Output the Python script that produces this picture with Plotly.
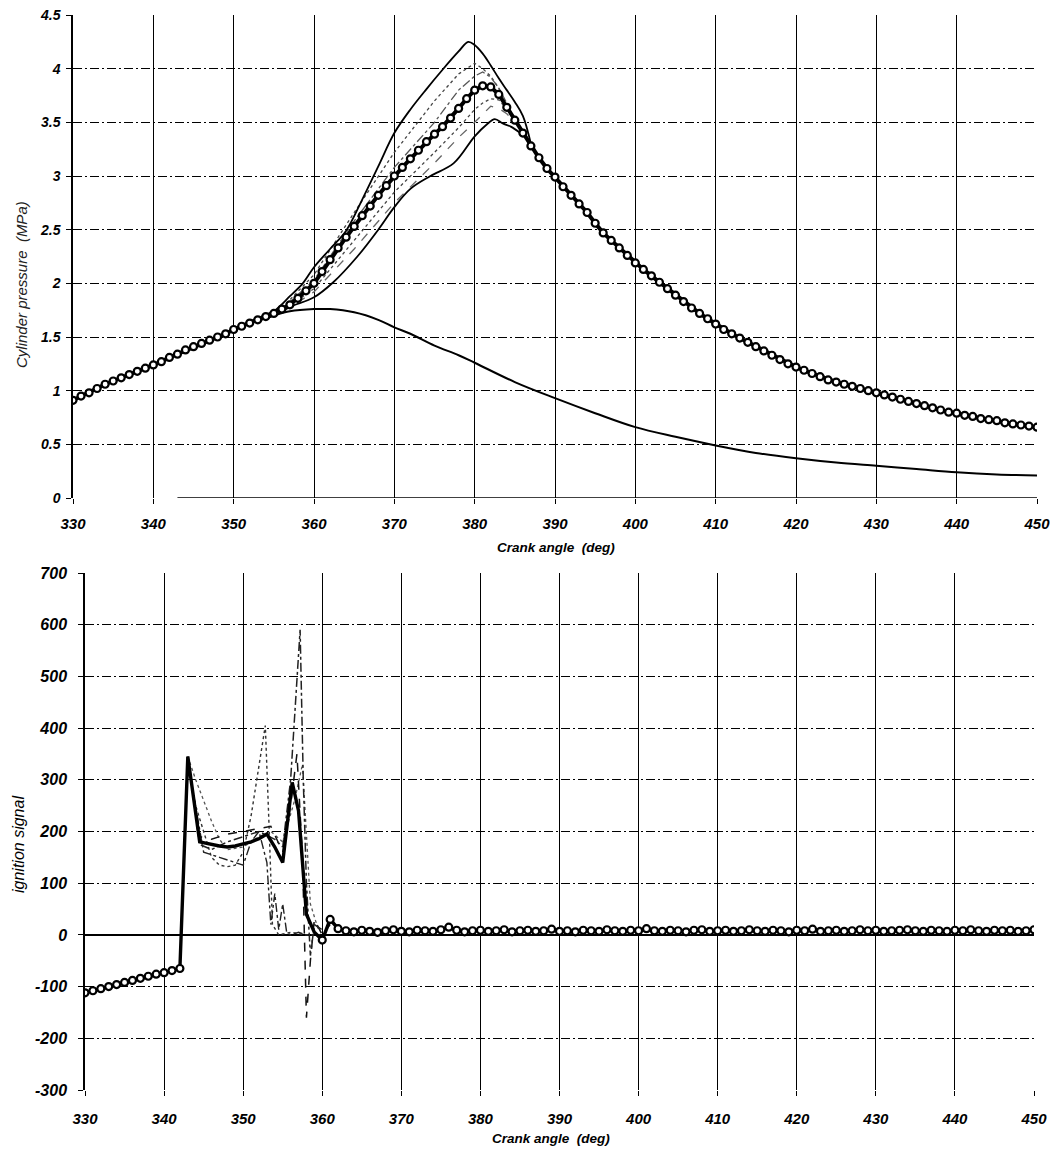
import plotly.graph_objects as go

# ---------------- data: top chart (cylinder pressure, MPa) ----------------
crank_deg = list(range(330, 451))
p_mean = [0.91, 0.95, 0.98, 1.02, 1.06, 1.09, 1.12, 1.15, 1.18, 1.21,
          1.24, 1.27, 1.31, 1.34, 1.38, 1.41, 1.44, 1.47, 1.50, 1.53,
          1.57, 1.60, 1.63, 1.66, 1.69, 1.72, 1.76, 1.80, 1.86, 1.93,
          2.00, 2.11, 2.22, 2.33, 2.43, 2.53, 2.63, 2.72, 2.82, 2.91,
          3.00, 3.08, 3.16, 3.24, 3.32, 3.39, 3.46, 3.54, 3.63, 3.72,
          3.80, 3.84, 3.83, 3.76, 3.64, 3.52, 3.40, 3.28, 3.17, 3.07,
          2.99, 2.90, 2.82, 2.74, 2.66, 2.56, 2.47, 2.40, 2.33, 2.26,
          2.19, 2.13, 2.07, 2.01, 1.95, 1.89, 1.83, 1.77, 1.72, 1.67,
          1.62, 1.57, 1.53, 1.49, 1.45, 1.41, 1.37, 1.33, 1.29, 1.25,
          1.22, 1.19, 1.16, 1.13, 1.10, 1.08, 1.06, 1.04, 1.02, 1.00,
          0.98, 0.96, 0.94, 0.92, 0.90, 0.88, 0.86, 0.84, 0.82, 0.80,
          0.79, 0.77, 0.76, 0.74, 0.73, 0.72, 0.70, 0.69, 0.68, 0.67,
          0.66]

motor_deg = [350, 355, 357, 360, 362, 365, 368, 370, 372, 375, 378, 380,
             385, 390, 395, 400, 405, 410, 415, 420, 425, 430, 435, 440, 445, 450]
p_motor = [1.57, 1.70, 1.74, 1.76, 1.76, 1.73, 1.66, 1.59, 1.53, 1.42, 1.33, 1.26,
           1.08, 0.93, 0.79, 0.66, 0.57, 0.49, 0.42, 0.37, 0.33, 0.30, 0.27, 0.24, 0.22, 0.21]

high_deg = [352, 355, 357, 358.6, 360, 362, 364, 366, 368, 370, 372, 374, 376, 378,
            379.2, 380, 381, 382, 383, 384, 385, 386, 387]
p_high = [1.63, 1.74, 1.88, 2.00, 2.15, 2.32, 2.49, 2.78, 3.09, 3.40, 3.62, 3.81, 3.99, 4.16,
          4.25, 4.22, 4.14, 4.03, 3.91, 3.80, 3.69, 3.56, 3.30]

low_deg = [352, 355, 357, 360, 362.4, 365.4, 368, 370, 372, 374.5, 377.4, 380, 381.5,
           382.5, 383.5, 384.5, 385.7]
p_low = [1.63, 1.70, 1.78, 1.87, 2.01, 2.25, 2.50, 2.71, 2.88, 3.00, 3.12, 3.37, 3.48,
         3.53, 3.49, 3.46, 3.40]

thin_deg = [356, 360, 365, 370, 375, 378, 380, 381, 382, 383, 384, 385]
p_thin1 = [1.77, 2.08, 2.66, 3.22, 3.70, 3.95, 4.05, 4.00, 3.93, 3.82, 3.66, 3.52]
p_thin2 = [1.76, 2.03, 2.58, 3.08, 3.50, 3.80, 3.93, 3.97, 3.92, 3.82, 3.68, 3.52]
p_thin3 = [1.74, 1.95, 2.40, 2.85, 3.22, 3.45, 3.62, 3.68, 3.72, 3.71, 3.62, 3.52]
p_thin4 = [1.73, 1.92, 2.32, 2.75, 3.12, 3.36, 3.50, 3.58, 3.65, 3.63, 3.58, 3.50]

zero_deg = [343, 450]
p_zero = [0.0, 0.0]

# ---------------- data: bottom chart (ignition signal) ----------------
pre_deg = list(range(330, 343))
sig_pre = [-112, -108, -104, -100, -96, -92, -88, -84, -80, -76, -73, -69, -65]

post_deg = list(range(360, 451))
sig_post = [-10, 30, 12, 8, 6, 9, 7, 5, 8, 10, 7,
            6, 9, 8, 7, 10, 15, 9, 6, 8, 9,
            7, 8, 10, 6, 8, 9, 7, 8, 11, 7,
            8, 6, 9, 8, 7, 10, 8, 7, 9, 8,
            12, 8, 7, 9, 8, 6, 9, 10, 7, 8,
            9, 7, 8, 10, 8, 7, 9, 8, 6, 9,
            8, 11, 7, 8, 9, 7, 8, 10, 8, 9,
            7, 8, 9, 10, 8, 7, 9, 8, 7, 9,
            8, 10, 8, 7, 9, 8, 9, 7, 8, 10]

bold_deg = [342, 343, 344.5, 346, 347, 348, 349, 350, 351, 352, 353, 354, 355,
            356.2, 357, 358, 359, 360]
sig_bold = [-65, 345, 180, 175, 172, 170, 172, 176, 180, 186, 195, 170, 140,
            295, 240, 40, 5, -10]

t1_deg = [342, 343, 344, 345, 346, 347, 348, 349, 350, 351, 352, 352.8, 353.3,
          353.7, 354.5, 356, 358, 360]
sig_t1 = [-65, 340, 250, 200, 150, 135, 132, 135, 160, 230, 330, 405, 200,
          20, 0, 5, 0, 0]

t2_deg = [343, 344.5, 346, 348, 350, 352, 354, 355, 356, 356.8, 357.2, 357.6,
          358, 358.5, 359, 360]
sig_t2 = [345, 175, 165, 180, 190, 200, 185, 170, 300, 480, 590, 300,
          100, -40, 20, 10]

t3_deg = [343, 344.5, 346, 348, 350, 352, 353.5, 355, 356, 356.8, 357.5, 358,
          358.5, 359, 360, 361]
sig_t3 = [340, 190, 185, 195, 200, 205, 210, 160, 250, 350, 150, -160,
          -50, 30, 0, 20]

t4_deg = [343, 345, 347, 349, 350, 351, 352, 353, 353.5, 354, 354.5, 355, 355.5,
          356, 357, 358]
sig_t4 = [335, 160, 150, 140, 135, 180, 200, 140, 20, 80, 10, 60, 5,
          0, 5, 0]

t5_deg = [343, 344, 345, 346, 347, 348, 350, 352, 353.5, 355, 356.5, 357.5, 358.5, 359.5]
sig_t5 = [345, 300, 260, 220, 185, 165, 170, 190, 200, 180, 260, 330, 60, 10]

# ---------------- tick labels ----------------
x_ticks = [330, 340, 350, 360, 370, 380, 390, 400, 410, 420, 430, 440, 450]
x_ticktext = [str(v) for v in x_ticks]
p_ticks = [0, 0.5, 1, 1.5, 2, 2.5, 3, 3.5, 4, 4.5]
p_ticktext = ["0", "0.5", "1", "1.5", "2", "2.5", "3", "3.5", "4", "4.5"]
s_ticks = [-300, -200, -100, 0, 100, 200, 300, 400, 500, 600, 700]
s_ticktext = ["-300", "-200", "-100", "0", "100", "200", "300", "400", "500", "600", "700"]

W, H = 1050, 1155
FONT = "Liberation Sans, Arial, sans-serif"

fig = go.Figure()

marker_chain = dict(symbol="circle", size=7, color="white",
                    line=dict(color="black", width=2.2))

# ---- top traces ----
for xs, ys, dash, col in [(thin_deg, p_thin1, "dot", "#444"),
                          (thin_deg, p_thin2, "dashdot", "#555"),
                          (thin_deg, p_thin3, "dot", "#444"),
                          (thin_deg, p_thin4, "dash", "#666")]:
    fig.add_trace(go.Scatter(x=xs, y=ys, mode="lines", xaxis="x", yaxis="y",
                             line=dict(color=col, width=1.3, dash=dash)))
fig.add_trace(go.Scatter(x=zero_deg, y=p_zero, mode="lines", xaxis="x", yaxis="y",
                         line=dict(color="black", width=1.5)))
fig.add_trace(go.Scatter(x=motor_deg, y=p_motor, mode="lines", xaxis="x", yaxis="y",
                         line=dict(color="black", width=2, shape="spline")))
fig.add_trace(go.Scatter(x=high_deg, y=p_high, mode="lines", xaxis="x", yaxis="y",
                         line=dict(color="black", width=1.8, shape="spline")))
fig.add_trace(go.Scatter(x=low_deg, y=p_low, mode="lines", xaxis="x", yaxis="y",
                         line=dict(color="black", width=1.8, shape="spline")))
fig.add_trace(go.Scatter(x=crank_deg, y=p_mean, mode="lines+markers", xaxis="x", yaxis="y",
                         line=dict(color="black", width=4), marker=marker_chain))

# ---- bottom traces ----
for xs, ys, dash, col, w in [(t5_deg, sig_t5, "dot", "#555", 1.3),
                             (t1_deg, sig_t1, "dot", "#333", 1.4),
                             (t4_deg, sig_t4, "dashdot", "#222", 1.4),
                             (t3_deg, sig_t3, "dash", "#111", 1.5),
                             (t2_deg, sig_t2, "dashdot", "#222", 1.5)]:
    fig.add_trace(go.Scatter(x=xs, y=ys, mode="lines", xaxis="x2", yaxis="y2",
                             line=dict(color=col, width=w, dash=dash)))
fig.add_trace(go.Scatter(x=bold_deg, y=sig_bold, mode="lines", xaxis="x2", yaxis="y2",
                         line=dict(color="black", width=3.4)))
fig.add_trace(go.Scatter(x=pre_deg, y=sig_pre, mode="lines+markers", xaxis="x2", yaxis="y2",
                         line=dict(color="black", width=3.5), marker=marker_chain))
fig.add_trace(go.Scatter(x=post_deg, y=sig_post, mode="lines+markers", xaxis="x2", yaxis="y2",
                         line=dict(color="black", width=3.5), marker=marker_chain))

tick_font = dict(family=FONT, size=15, color="black", weight="bold", style="italic")
grid_dash = "9px,3px,2px,3px"

common_x = dict(range=[330, 450], tickvals=x_ticks, ticktext=x_ticktext,
                showgrid=True, gridcolor="black", gridwidth=1.4, griddash="solid",
                zeroline=False, showline=False, ticks="outside", ticklen=5,
                tickcolor="black", tickfont=tick_font, automargin=False,
                ticklabeloverflow="allow")

fig.update_layout(
    width=W, height=H,
    margin=dict(l=0, r=0, t=0, b=0),
    paper_bgcolor="white", plot_bgcolor="white",
    showlegend=False,
    xaxis=dict(domain=[73 / W, 1037 / W], anchor="y", ticklabelstandoff=7, **common_x),
    yaxis=dict(domain=[1 - 498 / H, 1 - 15 / H], anchor="x", range=[0, 4.5],
               tickvals=p_ticks, ticktext=p_ticktext,
               showgrid=True, gridcolor="black", gridwidth=1, griddash=grid_dash,
               zeroline=False, showline=True, linecolor="black", linewidth=1.5,
               ticks="outside", ticklen=5, tickcolor="black", ticklabelstandoff=3,
               ticklabeloverflow="allow",
               tickfont=dict(family=FONT, size=14, color="black", weight="bold", style="italic"),
               automargin=False),
    xaxis2=dict(domain=[85 / W, 1034 / W], anchor="y2", ticklabelstandoff=10, **common_x),
    yaxis2=dict(domain=[1 - 1090 / H, 1 - 573 / H], anchor="x2", range=[-300, 700],
                tickvals=s_ticks, ticktext=s_ticktext,
                showgrid=True, gridcolor="black", gridwidth=1, griddash=grid_dash,
                zeroline=True, zerolinecolor="black", zerolinewidth=1.5,
                showline=True, linecolor="black", linewidth=1.5,
                ticks="outside", ticklen=5, tickcolor="black", ticklabelstandoff=8,
                ticklabeloverflow="allow",
                tickfont=dict(family=FONT, size=16, color="black", weight="bold", style="italic"),
                automargin=False),
    annotations=[
        dict(text="Cylinder pressure  (MPa)", xref="paper", yref="paper",
             x=22 / W, y=1 - 285 / H, textangle=-90, showarrow=False,
             xanchor="center", yanchor="middle",
             font=dict(family=FONT, size=15, color="#222", style="italic")),
        dict(text="Crank angle  (deg)", xref="paper", yref="paper",
             x=556 / W, y=1 - 547 / H, showarrow=False,
             xanchor="center", yanchor="middle",
             font=dict(family=FONT, size=13.5, color="black", style="italic", weight="bold")),
        dict(text="ignition signal", xref="paper", yref="paper",
             x=18 / W, y=1 - 845 / H, textangle=-90, showarrow=False,
             xanchor="center", yanchor="middle",
             font=dict(family=FONT, size=16, color="black", style="italic")),
        dict(text="Crank angle  (deg)", xref="paper", yref="paper",
             x=551 / W, y=1 - 1138 / H, showarrow=False,
             xanchor="center", yanchor="middle",
             font=dict(family=FONT, size=13.5, color="black", style="italic", weight="bold")),
    ],
)

fig.write_html("out.html")
